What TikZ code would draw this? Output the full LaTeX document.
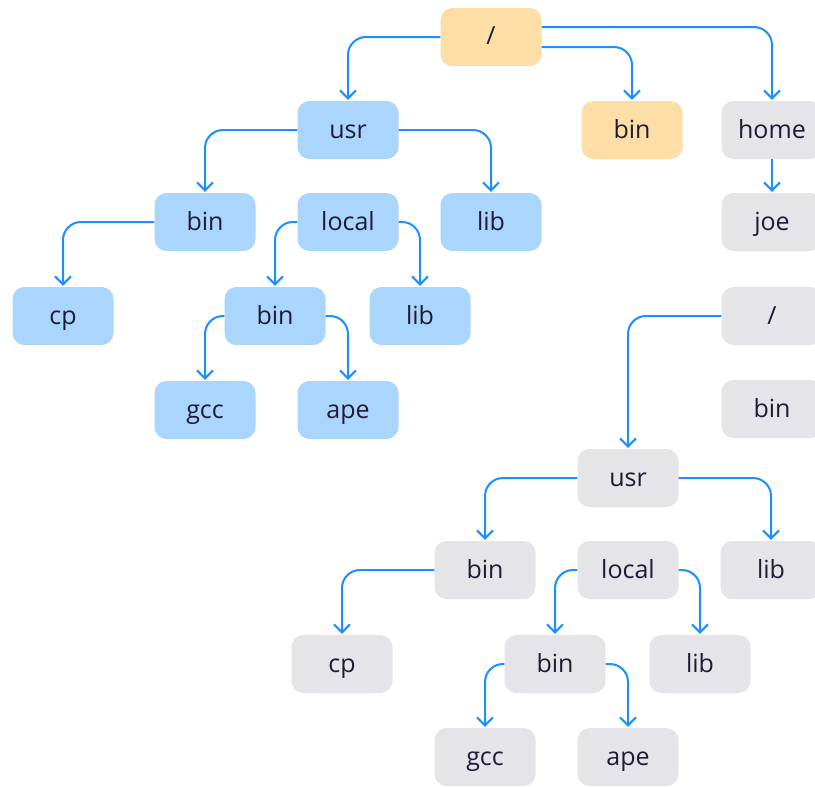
\documentclass[tikz,border=0pt]{standalone}
\usepackage{fontspec}
\setmainfont{Open Sans}
\usetikzlibrary{arrows.meta}
\definecolor{bluefill}{HTML}{AAD5FD}
\definecolor{orangefill}{HTML}{FDDEA6}
\definecolor{grayfill}{HTML}{E5E4E9}
\definecolor{linkc}{HTML}{1E8FFF}
\definecolor{ink}{HTML}{1F1B36}
\tikzset{
  box/.style={rounded corners=12pt, minimum width=101pt, minimum height=58pt,
    inner sep=0pt, text=ink, text height=18pt, text depth=2pt,
    font=\fontsize{25}{28}\selectfont},
  bluebox/.style={box, fill=bluefill},
  orangebox/.style={box, fill=orangefill},
  graybox/.style={box, fill=grayfill},
  link/.style={draw=linkc, line width=2pt, rounded corners=18pt,
    -{Straight Barb[length=8pt,width=16pt,line width=2pt]}, shorten >=1pt}
}
\begin{document}
\begin{tikzpicture}[x=1pt,y=-1pt]
\useasboundingbox (0,0) rectangle (815,787);
\clip (0,0) rectangle (815,787);
\fill[white] (0,0) rectangle (815,787);
% top tree
\node[orangebox] (r1) at (491,37) {/};
\node[bluebox] (u1) at (348,130) {usr};
\node[orangebox] (b1) at (632,130) {bin};
\node[graybox] (h1) at (772,130) {home};
\node[graybox] (j1) at (772,222) {joe};
\node[bluebox] (ub1) at (205,222) {bin};
\node[bluebox] (lo1) at (348,222) {local};
\node[bluebox] (ul1) at (491,222) {lib};
\node[bluebox] (cp1) at (63,316) {cp};
\node[bluebox] (lb1) at (275,316) {bin};
\node[bluebox] (ll1) at (420,316) {lib};
\node[bluebox] (g1) at (205,410) {gcc};
\node[bluebox] (a1) at (348,410) {ape};
\draw[link] (r1.west) -| (u1.north);
\draw[link] ([yshift=-10pt]r1.east) -| (b1.north);
\draw[link] ([yshift=10pt]r1.east) -| (h1.north);
\draw[link] (h1.south) -- (j1.north);
\draw[link] (u1.west) -| (ub1.north);
\draw[link] (u1.east) -| (ul1.north);
\draw[link] (ub1.west) -| (cp1.north);
\draw[link] (lo1.west) -| (lb1.north);
\draw[link] (lo1.east) -| (ll1.north);
\draw[link] (lb1.west) -| (g1.north);
\draw[link] (lb1.east) -| (a1.north);
% bottom tree
\node[graybox] (r2) at (772,316) {/};
\node[graybox] (b2) at (772,409) {bin};
\node[graybox] (u2) at (628,478) {usr};
\node[graybox] (ub2) at (485,570) {bin};
\node[graybox] (lo2) at (628,570) {local};
\node[graybox] (ul2) at (771,570) {lib};
\node[graybox] (cp2) at (342,664) {cp};
\node[graybox] (lb2) at (555,664) {bin};
\node[graybox] (ll2) at (700,664) {lib};
\node[graybox] (g2) at (485,757) {gcc};
\node[graybox] (a2) at (628,757) {ape};
\draw[link] (r2.west) -| (u2.north);
\draw[link] (u2.west) -| (ub2.north);
\draw[link] (u2.east) -| (ul2.north);
\draw[link] (ub2.west) -| (cp2.north);
\draw[link] (lo2.west) -| (lb2.north);
\draw[link] (lo2.east) -| (ll2.north);
\draw[link] (lb2.west) -| (g2.north);
\draw[link] (lb2.east) -| (a2.north);
\end{tikzpicture}
\end{document}
